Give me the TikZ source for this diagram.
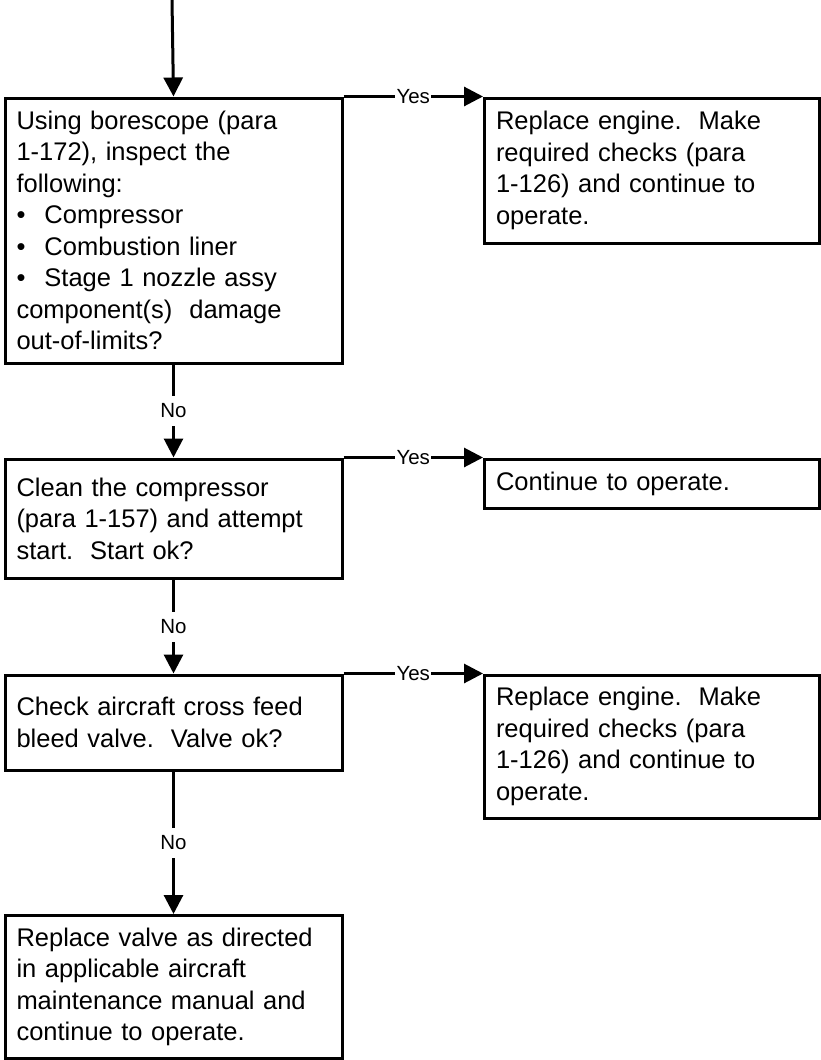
\documentclass[tikz,border=0pt]{standalone}
\usepackage{fontspec}
\setmainfont{Liberation Sans}
\usetikzlibrary{arrows.meta}
\begin{document}
\begin{tikzpicture}[x=1pt,y=-1pt,
  box/.style={draw, line width=3pt, rectangle, anchor=north west,
    inner xsep=11.5pt, inner ysep=0pt, align=left,
    font=\fontsize{25.5}{31.5}\selectfont},
  leftbox/.style={box, text width=314pt},
  rightbox/.style={box, text width=312pt},
  flow/.style={line width=3pt, -{Triangle[length=19pt,width=19pt]}},
  lbl/.style={fill=white, inner xsep=1.5pt, inner ysep=8pt,
    font=\fontsize{20.5}{23}\selectfont}
]
\useasboundingbox (0,0) rectangle (820,1060);

% decision and action boxes
\node[leftbox, minimum height=265pt] (b1) at (3.5,96.5)
  {Using borescope (para\\
   1-172), inspect the\\
   following:\\
   \makebox[28pt][l]{•}Compressor\\
   \makebox[28pt][l]{•}Combustion liner\\
   \makebox[28pt][l]{•}Stage 1 nozzle assy\\
   component(s)\ \ damage\\
   out-of-limits?};
\node[rightbox, minimum height=145pt] (b2) at (483,96.5)
  {Replace engine.\ \ Make\\
   required checks (para\\
   1-126) and continue to\\
   operate.};
\node[leftbox, minimum height=119.5pt] (b3) at (3.5,457.5)
  {Clean the compressor\\
   (para 1-157) and attempt\\
   start.\ \ Start ok?};
\node[rightbox, minimum height=49pt] (b4) at (483,457.5)
  {Continue to operate.};
\node[leftbox, minimum height=95pt] (b5) at (3.5,673.5)
  {Check aircraft cross feed\\
   bleed valve.\ \ Valve ok?};
\node[rightbox, minimum height=143pt] (b6) at (483,673.5)
  {Replace engine.\ \ Make\\
   required checks (para\\
   1-126) and continue to\\
   operate.};
\node[leftbox, minimum height=143pt] (b7) at (3.5,914)
  {Replace valve as directed\\
   in applicable aircraft\\
   maintenance manual and\\
   continue to operate.};

% connectors
\coordinate (entry) at (172,0);
\draw[flow] (entry) -- (b1.north);
\draw[flow] (b1.north east) -- node[lbl] {Yes} (b2.north west);
\draw[flow] (b1.south) -- node[lbl] {No} (b3.north);
\draw[flow] (b3.north east) -- node[lbl] {Yes} (b4.north west);
\draw[flow] (b3.south) -- node[lbl] {No} (b5.north);
\draw[flow] (b5.north east) -- node[lbl] {Yes} (b6.north west);
\draw[flow] (b5.south) -- node[lbl] {No} (b7.north);
\end{tikzpicture}
\end{document}
